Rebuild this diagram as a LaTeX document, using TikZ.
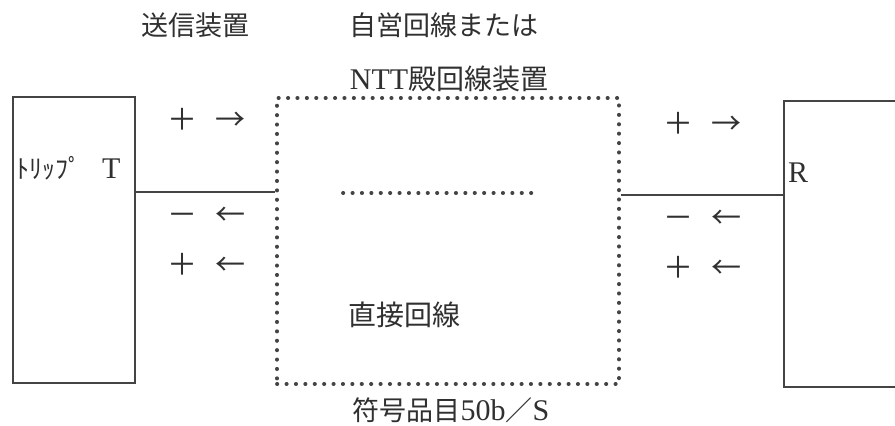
\documentclass[tikz,border=0pt]{standalone}
\usepackage{fontspec}
\setmainfont{Liberation Serif}
\newfontfamily\jp{Noto Sans CJK JP}
\definecolor{ink}{HTML}{303030}
\definecolor{lineink}{HTML}{444444}
\tikzset{
  solidbox/.style={draw=lineink, line width=2.2pt, minimum width=122pt, minimum height=286pt, inner sep=0pt},
  dotbox/.style={draw=lineink, line width=3.8pt, line cap=round, dash pattern=on 0.3pt off 9.1pt, minimum width=342pt, minimum height=286pt, inner sep=0pt},
  dotline/.style={draw=lineink, line width=3.8pt, line cap=round, dash pattern=on 0.3pt off 9.1pt},
  wire/.style={draw=lineink, line width=2.2pt},
  lbl/.style={text=ink, inner sep=0pt},
  jptxt/.style={lbl, font=\jp\fontsize{27}{30}\selectfont},
  sign/.style={lbl, font=\jp\fontsize{30}{32}\selectfont},
}
\newcommand{\sgn}[2]{#1\hspace{18pt}#2}
\begin{document}
\begin{tikzpicture}[x=1pt, y=-1pt]
\useasboundingbox (0,0) rectangle (895,426);
\clip (0,0) rectangle (895,426);
\fill[white] (0,0) rectangle (895,426);
% boxes
\node[solidbox] (L) at (74,240) {};
\node[dotbox] (M) at (448,241) {};
\node[solidbox] (RB) at (845,244) {};
% wires
\draw[wire] (L.east |- 0,192) -- (M.west |- 0,192);
\draw[wire] (M.east |- 0,195) -- (RB.west |- 0,195);
% inner dotted line
\draw[dotline] (343,193) -- (533,193);
% headings
\node[jptxt] (h1) at (195,25) {送信装置};
\node[jptxt] (h2) at (444,25) {自営回線または};
\node[jptxt] (h3) at (449,79) {\fontsize{30}{32}\selectfont\rmfamily NTT\jp\fontsize{28}{30}\selectfont 殿回線装置};
\node[jptxt] (h4) at (404,315) {\fontsize{28}{30}\selectfont 直接回線};
\node[jptxt] (h5) at (451,410) {符号品目\rmfamily\fontsize{30}{32}\selectfont 50b\jp\fontsize{27}{30}\selectfont ／\rmfamily\fontsize{30}{32}\selectfont S};
% box labels
\node[lbl, anchor=west] (tl) at (16,168) {{\jp\fontsize{26}{28}\selectfont ﾄﾘｯﾌﾟ}\hspace{21pt}{\fontsize{30}{32}\selectfont T}};
\node[lbl, anchor=west] (rl) at (788,173) {\fontsize{30}{32}\selectfont R};
% signs left
\node[sign] (s1) at (206,119) {\sgn{＋}{→}};
\node[sign] (s2) at (206,216) {\sgn{－}{←}};
\node[sign] (s3) at (206,264) {\sgn{＋}{←}};
% signs right
\node[sign] (s4) at (702,123) {\sgn{＋}{→}};
\node[sign] (s5) at (702,219) {\sgn{－}{←}};
\node[sign] (s6) at (702,267) {\sgn{＋}{←}};
\end{tikzpicture}
\end{document}
